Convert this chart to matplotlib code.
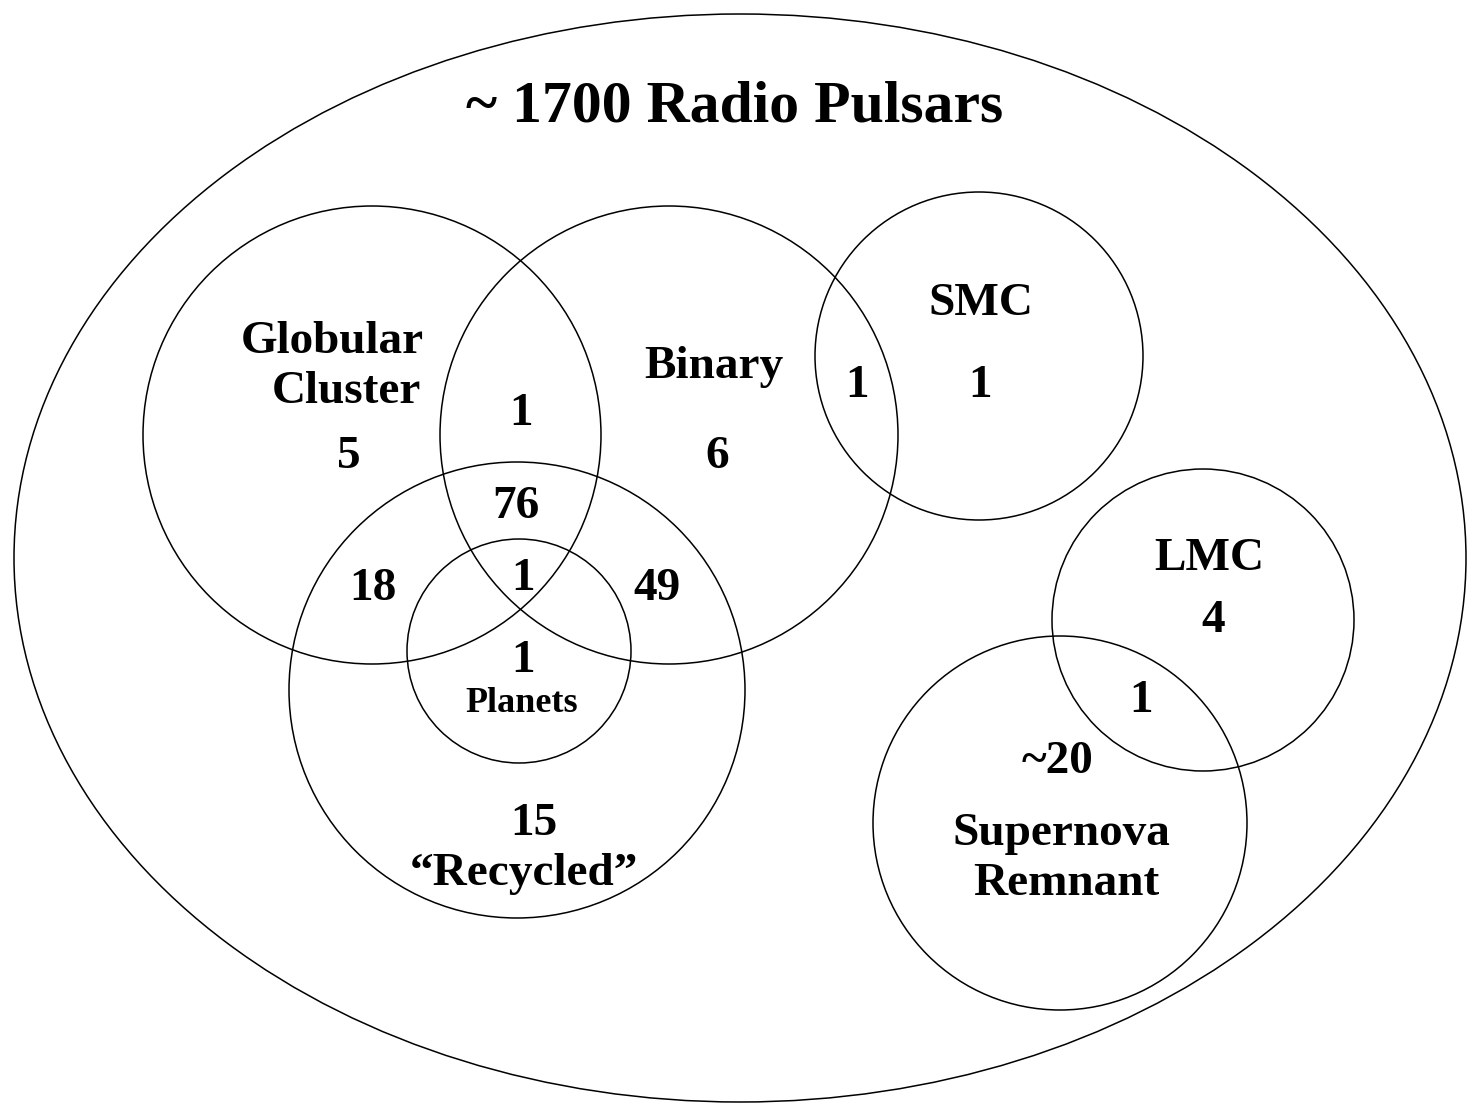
import matplotlib
matplotlib.use("Agg")
import matplotlib.pyplot as plt
from matplotlib.patches import Circle, Ellipse

# ---------------- DATA ----------------
# set circles (pixel coordinates of the original drawing)
set_names = ["Globular Cluster", "Binary", "SMC", "Recycled", "Planets", "LMC", "Supernova Remnant"]
set_cx = [372, 669, 979, 517, 519, 1203, 1060]
set_cy = [435, 435, 356, 690, 651, 620, 823]
set_r = [229, 229, 164, 228, 112, 151, 187]

# outer population ellipse
outer_label = "~ 1700 Radio Pulsars"

# region counts and where they sit (x centre, baseline y)
counts = ["5", "1", "6", "1", "1", "76", "18", "1", "49", "1", "15", "4", "1", "~20"]
count_x = [349, 521, 717, 857, 980, 516, 373, 523, 657, 523, 534, 1213, 1141, 1058]
count_y = [468, 425, 468, 397, 397, 518, 600, 590, 600, 672, 835, 632, 712, 773]

# set name labels
names = ["Globular", "Cluster", "Binary", "SMC", "\u201cRecycled\u201d", "LMC", "Supernova", "Remnant"]
name_x = [332, 346, 714, 981, 524, 1209, 1061, 1066]
name_y = [353, 403, 378, 315, 885, 570, 845, 895]

W, H = 1467, 1105
FONT = "Liberation Serif"

fig = plt.figure(figsize=(W / 100, H / 100), dpi=100)
ax = fig.add_axes([0, 0, 1, 1])
ax.set_xlim(0, W)
ax.set_ylim(H, 0)
ax.axis("off")

lw = 1.1
ax.add_patch(Ellipse((740, 558), 1452, 1088, fill=False, ec="black", lw=lw))
for cx, cy, r in zip(set_cx, set_cy, set_r):
    ax.add_patch(Circle((cx, cy), r, fill=False, ec="black", lw=lw))

ax.text(735, 122, outer_label, ha="center", va="baseline", fontsize=43,
        fontweight="bold", family=FONT)

for t, x, y in zip(counts, count_x, count_y):
    ax.text(x, y, t, ha="center", va="baseline", fontsize=34, fontweight="bold", family=FONT)

for t, x, y in zip(names, name_x, name_y):
    ax.text(x, y, t, ha="center", va="baseline", fontsize=34, fontweight="bold", family=FONT)

ax.text(522, 712, "Planets", ha="center", va="baseline", fontsize=26, fontweight="bold", family=FONT)

fig.savefig("out.png", dpi=100)
